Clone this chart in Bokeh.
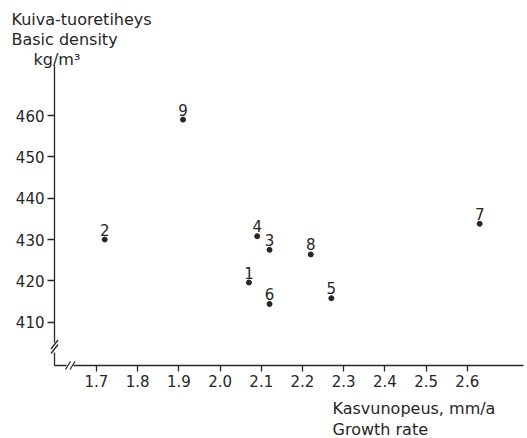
from bokeh.plotting import figure
from bokeh.models import Range1d, FixedTicker, Label, ColumnDataSource
from bokeh.core.properties import value
from bokeh.embed import file_html
from bokeh.resources import INLINE

# ---- data ----
point_ids = ["1", "2", "3", "4", "5", "6", "7", "8", "9"]
growth_rate = [2.07, 1.72, 2.12, 2.09, 2.27, 2.12, 2.63, 2.22, 1.91]
basic_density = [419.6, 430.0, 427.5, 430.8, 415.8, 414.4, 433.8, 426.4, 459.0]
x_ticks = [1.7, 1.8, 1.9, 2.0, 2.1, 2.2, 2.3, 2.4, 2.5, 2.6]
y_ticks = [410, 420, 430, 440, 450, 460]
y_title = ["Kuiva-tuoretiheys", "Basic density", "kg/m\u00b3"]
x_title = ["Kasvunopeus, mm/a", "Growth rate"]

FONT = "DejaVu Sans"
INK = "#262626"

# layout (pixels)
W, H = 527, 438
FL, FR, FT, FB = 54, 523, 65, 365          # axis-line extents
X_REF_PX, X_PER_UNIT = 96.0, 412.0          # px of x=1.7, px per unit
Y_REF_PX, Y_PER_UNIT = 321.7, 4.134         # px of y=410, px per unit


def px2x(px):
    return 1.7 + (px - X_REF_PX) / X_PER_UNIT


def px2y(py):
    return 410 + (Y_REF_PX - py) / Y_PER_UNIT


p = figure(width=W, height=H, output_backend="svg", toolbar_location=None,
           x_range=Range1d(px2x(0), px2x(W)), y_range=Range1d(px2y(H), px2y(0)),
           min_border=0, min_border_left=0, min_border_right=0, min_border_top=0,
           min_border_bottom=0)
p.outline_line_color = None
p.grid.visible = False
p.background_fill_color = "white"
p.border_fill_color = "white"

p.xaxis.fixed_location = px2y(FB)
p.yaxis.fixed_location = px2x(FL)
for ax, ticks, out, standoff in ((p.xaxis, x_ticks, 6, 3), (p.yaxis, y_ticks, 7, 3)):
    ax.ticker = FixedTicker(ticks=ticks)
    ax.major_label_overrides = {t: (f"{t:.1f}" if isinstance(t, float) else str(t)) for t in ticks}
    ax.axis_line_color = None
    ax.major_tick_out = out
    ax.major_tick_in = 0
    ax.minor_tick_line_color = None
    ax.major_tick_line_color = INK
    ax.major_tick_line_width = 1.3
    ax.major_label_standoff = standoff
    ax.major_label_text_font = FONT
    ax.major_label_text_font_size = "15px"
    ax.major_label_text_color = INK

# axis lines with break marks
segs_px = [
    ((FL, FT), (FL, 342)), ((FL, 352), (FL, FB)),                 # y axis with gap
    ((50.5, 348.5), (57.5, 339.5)), ((50.5, 353), (57.5, 344)),   # y break
    ((FL, FB), (66, FB)), ((73, FB), (FR, FB)),                   # x axis with gap
    ((65, 369), (70, 361)), ((69.5, 369), (74.5, 361)),           # x break
]
p.segment(x0=[px2x(a[0]) for a, b in segs_px], y0=[px2y(a[1]) for a, b in segs_px],
          x1=[px2x(b[0]) for a, b in segs_px], y1=[px2y(b[1]) for a, b in segs_px],
          line_color=INK, line_width=1.3)

src = ColumnDataSource(dict(x=growth_rate, y=basic_density, t=point_ids))
p.scatter("x", "y", source=src, size=5, color=INK)
p.text("x", "y", text="t", source=src, text_align="center", text_baseline="bottom",
       y_offset=-4, text_font=value(FONT), text_font_size="15px", text_color=INK)

for i, t in enumerate(y_title):
    p.add_layout(Label(x=px2x(11 if i < 2 else 33), y=px2y(19 + 20 * i), text=t,
                       text_font=FONT, text_font_size="16px", text_color=INK,
                       text_align="left", text_baseline="alphabetic"))
for i, t in enumerate(x_title):
    p.add_layout(Label(x=px2x(332), y=px2y(408 + 21 * i), text=t,
                       text_font=FONT, text_font_size="16px", text_color=INK,
                       text_align="left", text_baseline="alphabetic"))

open("out.html", "w").write(file_html(p, INLINE))
